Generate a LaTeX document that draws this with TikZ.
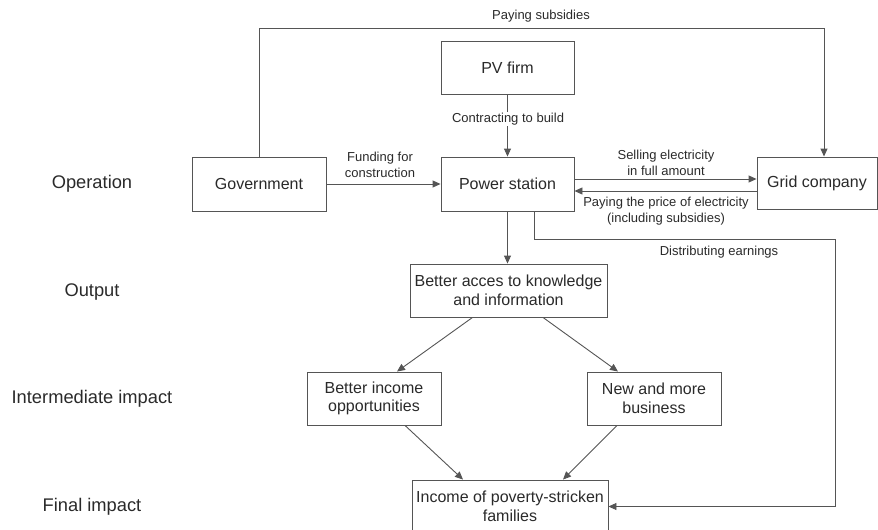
\documentclass[tikz,border=0pt]{standalone}
\usepackage{fontspec}
\setmainfont{Liberation Sans}
\usetikzlibrary{arrows.meta,calc}
\definecolor{ink}{HTML}{2A2A2A}
\definecolor{wire}{HTML}{555555}
\tikzset{
  box/.style={draw=wire, line width=0.9pt, fill=white, text=ink, align=center,
    inner sep=2pt, font=\fontsize{16}{18.5}\selectfont},
  lvl/.style={text=ink, font=\fontsize{18.3}{21}\selectfont, inner sep=0pt},
  elab/.style={text=ink, font=\fontsize{13}{15.5}\selectfont, align=center, inner sep=1pt},
  arr/.style={draw=wire, line width=0.9pt, -{Triangle[length=8pt,width=7pt]}},
  ln/.style={draw=wire, line width=0.9pt}
}
\begin{document}
\begin{tikzpicture}[x=1pt,y=-1pt]
\useasboundingbox (0,0) rectangle (878,530);
\clip (0,0) rectangle (878,530);
% level labels
\node[lvl] (l1) at (92,184) {Operation};
\node[lvl] (l2) at (92,292) {Output};
\node[lvl] (l3) at (92,399) {Intermediate impact};
\node[lvl] (l4) at (92,507) {Final impact};
% boxes
\node[box, minimum width=133pt, minimum height=53pt] (pv) at (507.5,67.5) {PV firm};
\node[box, minimum width=134pt, minimum height=54pt] (gov) at (259,184) {Government};
\node[box, minimum width=133pt, minimum height=54pt] (ps) at (507.5,184) {Power station};
\node[box, minimum width=120pt, minimum height=52pt] (grid) at (817,183) {Grid company};
\node[box, minimum width=197pt, minimum height=53pt] (acc) at (508.5,290.5) {Better acces to knowledge\\and information};
\node[box, minimum width=134pt, minimum height=53pt] (inc) at (374,398.5) {Better income\\opportunities};
\node[box, minimum width=134pt, minimum height=53pt] (biz) at (654,398.5) {New and more\\business};
\node[box, minimum width=196pt, minimum height=53pt] (fam) at (510,506.5) {Income of poverty-stricken\\families};
% coordinates
\coordinate (subL) at (259,28);
\coordinate (subR) at (824,28);
\coordinate (dr) at (835,239);
% connectors
\draw[arr] (gov.north) -- (subL) -- (subR) -- (subR |- grid.north);
\node[elab] (lsub) at (541,16) {Paying subsidies};
\draw[arr] (pv.south) -- (ps.north);
\node[elab, fill=white] (lcon) at (508,119) {Contracting to build};
\draw[arr] (gov.east) -- (ps.west);
\node[elab] (lfund) at (380,165) {Funding for\\construction};
\draw[arr] ([yshift=5pt]ps.east) -- ([yshift=5pt]ps.east -| grid.west);
\node[elab] (lsell) at (666,163) {Selling electricity\\in full amount};
\draw[arr] ([yshift=-7pt]ps.east -| grid.west) -- ([yshift=-7pt]ps.east);
\node[elab] (lpay) at (666,211) {Paying the price of electricity\\(including subsidies)};
\draw[arr] (ps.south) -- (ps.south |- acc.north);
\draw[arr] ([xshift=27pt]ps.south) |- (dr) |- (fam.east);
\node[elab] (ldist) at (719,252) {Distributing earnings};
\draw[arr] ([xshift=-36pt]acc.south) -- ([xshift=23pt]inc.north);
\draw[arr] ([xshift=34.5pt]acc.south) -- ([xshift=-36pt]biz.north);
\draw[arr] ([xshift=31pt]inc.south) -- ([xshift=-47pt]fam.north);
\draw[arr] ([xshift=-37pt]biz.south) -- ([xshift=53pt]fam.north);
\end{tikzpicture}
\end{document}
